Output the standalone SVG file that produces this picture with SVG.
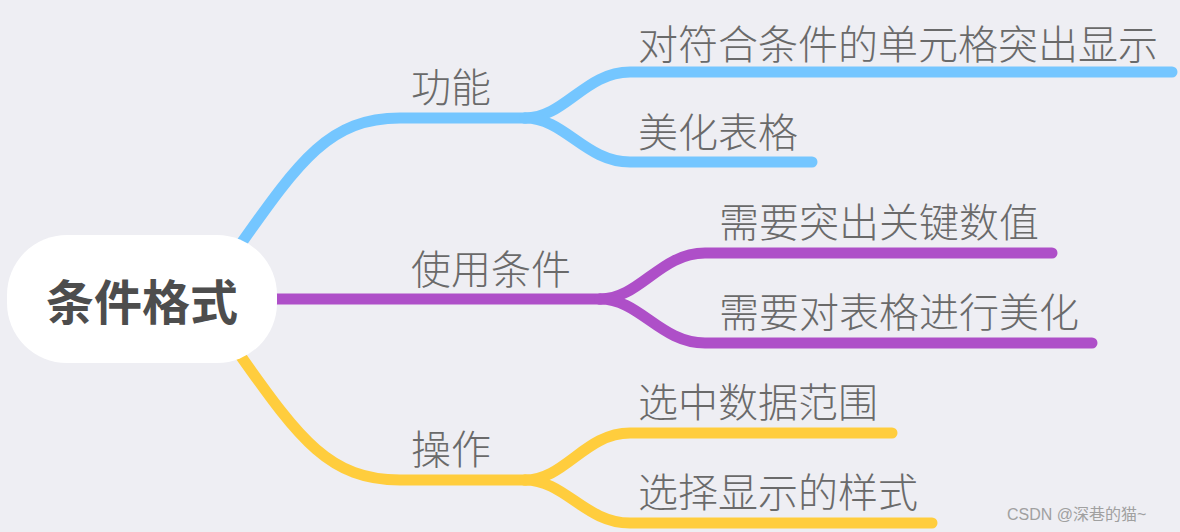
<svg xmlns="http://www.w3.org/2000/svg" width="1180" height="532" viewBox="0 0 1180 532">
<style>
.t{font-family:"Noto Sans CJK SC","Noto Sans",sans-serif;font-size:40px;font-weight:300;fill:#6A6A6A}
.c{fill:none;stroke-width:11;stroke-linecap:round}
.b{stroke:#74C6FF}.p{stroke:#AE4FC8}.y{stroke:#FFCD3D}
</style>
<rect width="1180" height="532" fill="#EEEEF3"/>
<g id="connectors">
<path class="c b" d="M240 245 C300 160 330 118 400 118 L525 118"/>
<path class="c b" d="M525 118 C565 118 585 72 630 72 L1172 72"/>
<path class="c b" d="M525 118 C565 118 585 162 630 162 L812 162"/>
<path class="c p" d="M277 299 L600 299"/>
<path class="c p" d="M600 299 C640 299 660 253 705 253 L1052 253"/>
<path class="c p" d="M600 299 C640 299 660 343 705 343 L1092 343"/>
<path class="c y" d="M240 355 C300 440 330 480 400 480 L525 480"/>
<path class="c y" d="M525 480 C565 480 585 433 630 433 L892 433"/>
<path class="c y" d="M525 480 C565 480 585 523 630 523 L932 523"/>
</g>
<g id="root">
<rect x="7" y="235" width="270" height="128" rx="60" fill="#FFFFFF"/>
<text x="142" y="320" text-anchor="middle" style="font-family:'Noto Sans CJK SC',sans-serif;font-size:48px;font-weight:bold;fill:#4D4D4D">条件格式</text>
</g>
<g id="n-gongneng"><text class="t" x="411" y="102">功能</text></g>
<g id="n-tuchu"><text class="t" x="638" y="59">对符合条件的单元格突出显示</text></g>
<g id="n-meihua"><text class="t" x="638" y="147">美化表格</text></g>
<g id="n-shiyong"><text class="t" x="411" y="284">使用条件</text></g>
<g id="n-guanjian"><text class="t" x="719" y="237">需要突出关键数值</text></g>
<g id="n-biaoge"><text class="t" x="719" y="327">需要对表格进行美化</text></g>
<g id="n-caozuo"><text class="t" x="411" y="464">操作</text></g>
<g id="n-xuanzhong"><text class="t" x="638" y="417">选中数据范围</text></g>
<g id="n-yangshi"><text class="t" x="638" y="507">选择显示的样式</text></g>
<text x="1007" y="520" style="font-family:'Liberation Sans','Noto Sans CJK SC',sans-serif;font-size:16px;fill:#A0A0A0">CSDN @深巷的猫~</text>
</svg>
